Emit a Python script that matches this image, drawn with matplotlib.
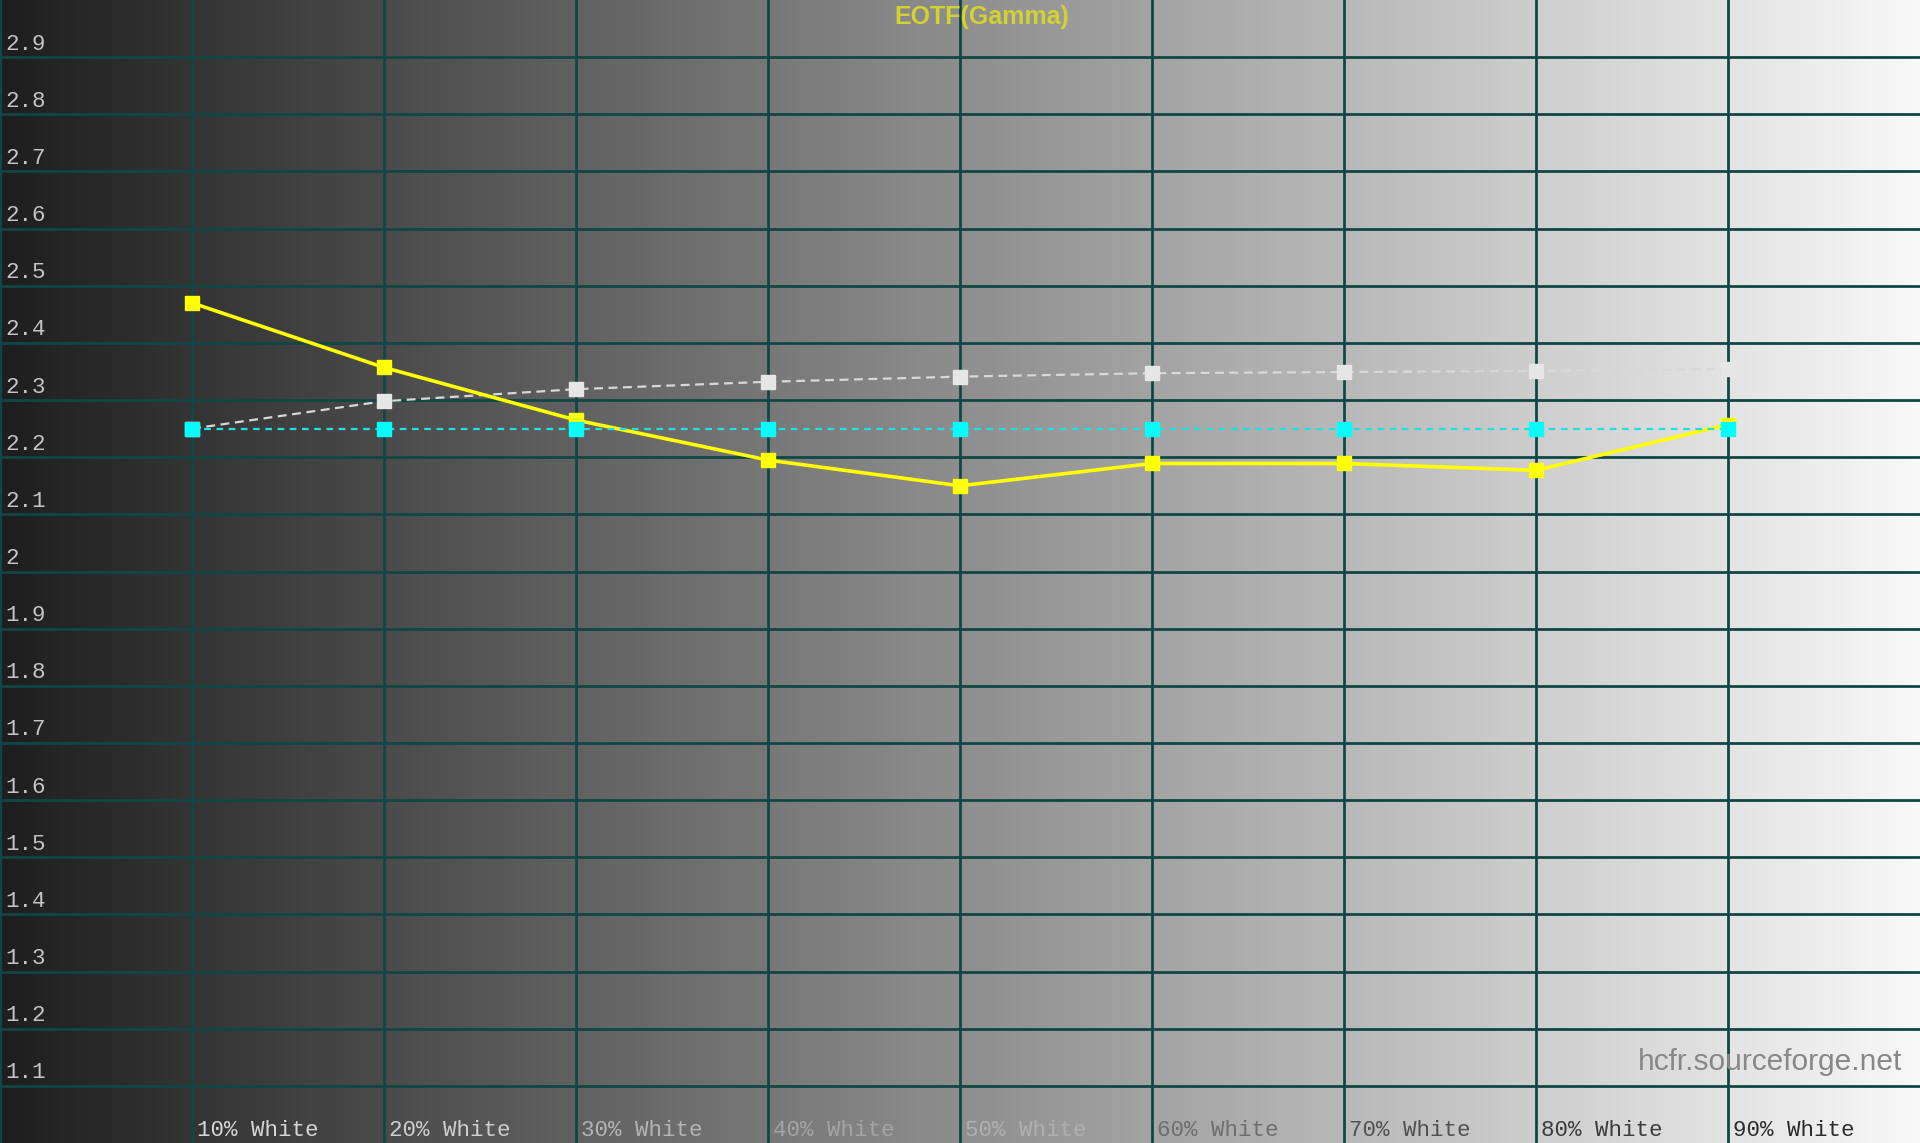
import numpy as np
import matplotlib
matplotlib.use("Agg")
import matplotlib.pyplot as plt
from matplotlib.colors import LinearSegmentedColormap

# gamma per grey step
steps = [1, 2, 3, 4, 5, 6, 7, 8, 9]
step_labels = ["10% White", "20% White", "30% White", "40% White", "50% White",
               "60% White", "70% White", "80% White", "90% White"]
measured_gamma = [2.470, 2.357, 2.265, 2.195, 2.150, 2.189, 2.189, 2.177, 2.257]
bt1886_gamma = [2.250, 2.298, 2.319, 2.332, 2.341, 2.347, 2.349, 2.351, 2.354]
target_gamma = [2.250, 2.250, 2.250, 2.250, 2.250, 2.250, 2.250, 2.250, 2.250]
y_ticks = [1.1, 1.2, 1.3, 1.4, 1.5, 1.6, 1.7, 1.8, 1.9, 2.0,
           2.1, 2.2, 2.3, 2.4, 2.5, 2.6, 2.7, 2.8, 2.9]
y_tick_labels = ["1.1", "1.2", "1.3", "1.4", "1.5", "1.6", "1.7", "1.8", "1.9", "2",
                 "2.1", "2.2", "2.3", "2.4", "2.5", "2.6", "2.7", "2.8", "2.9"]

grid_col = "#104646"
xlabel_cols = ["#d6d6d6", "#cfcfcf", "#b4b4b4", "#a4a4a4", "#b0b0b0",
               "#6e6e6e", "#505050", "#3c3c3c", "#2c2c2c"]

fig = plt.figure(figsize=(19.2, 11.43), dpi=100)
ax = fig.add_axes([0, 0, 1, 1])
ax.set_xlim(0, 10)
ax.set_ylim(1.0, 3.0)

# grey ramp behind everything
bg = LinearSegmentedColormap.from_list("ramp", ["#1e1e1e", "#8e8e8e", "#f8f8f8"])
ax.imshow(np.linspace(0, 1, 512).reshape(1, -1), extent=[0, 10, 1.0, 3.0],
          aspect="auto", cmap=bg, zorder=0)

ax.set_xticks(steps)
ax.set_yticks(y_ticks)
ax.grid(True, color=grid_col, linewidth=2.0, zorder=1)
ax.tick_params(length=0, labelleft=False, labelbottom=False)
for s in ["top", "right", "bottom"]:
    ax.spines[s].set_visible(False)
ax.spines["left"].set_color(grid_col)
ax.spines["left"].set_linewidth(3)

ax.plot(steps, bt1886_gamma, color="#d8d8d8", lw=1.6, ls=(0, (4, 2.5)),
        marker="s", ms=9.5, mfc="#e6e6e6", mec="#e6e6e6", zorder=3)
ax.plot(steps, measured_gamma, color="#ffff00", lw=2.6,
        marker="s", ms=9.5, mfc="#ffff00", mec="#ffff00", zorder=4)
ax.plot(steps, target_gamma, color="#22e0e0", lw=1.6, ls=(0, (3, 2.5)),
        marker="s", ms=9.5, mfc="#00ffff", mec="#00ffff", zorder=5)

# axis texts, drawn inside the plot like HCFR does
for v, lab in zip(y_ticks, y_tick_labels):
    ax.annotate(lab, xy=(0, v), xytext=(5, 13), textcoords="offset pixels",
                ha="left", va="center", fontsize=16.2, family="Liberation Mono",
                color="#c4c4c4", zorder=6)
for x, lab, c in zip(steps, step_labels, xlabel_cols):
    ax.annotate(lab, xy=(x, 1.0), xytext=(5, 12), textcoords="offset pixels",
                ha="left", va="center", fontsize=16.2, family="Liberation Mono",
                color=c, zorder=6)

fig.text(982 / 1920, 1 - 17 / 1143, "EOTF(Gamma)", ha="center", va="center",
         fontsize=18, fontweight="bold", family="Liberation Sans", color="#d2d232")
fig.text(1902 / 1920, 1 - 1062 / 1143, "hcfr.sourceforge.net", ha="right", va="center",
         fontsize=21.5, family="Liberation Sans", color="#888888")

fig.savefig("out.png", dpi=100)
